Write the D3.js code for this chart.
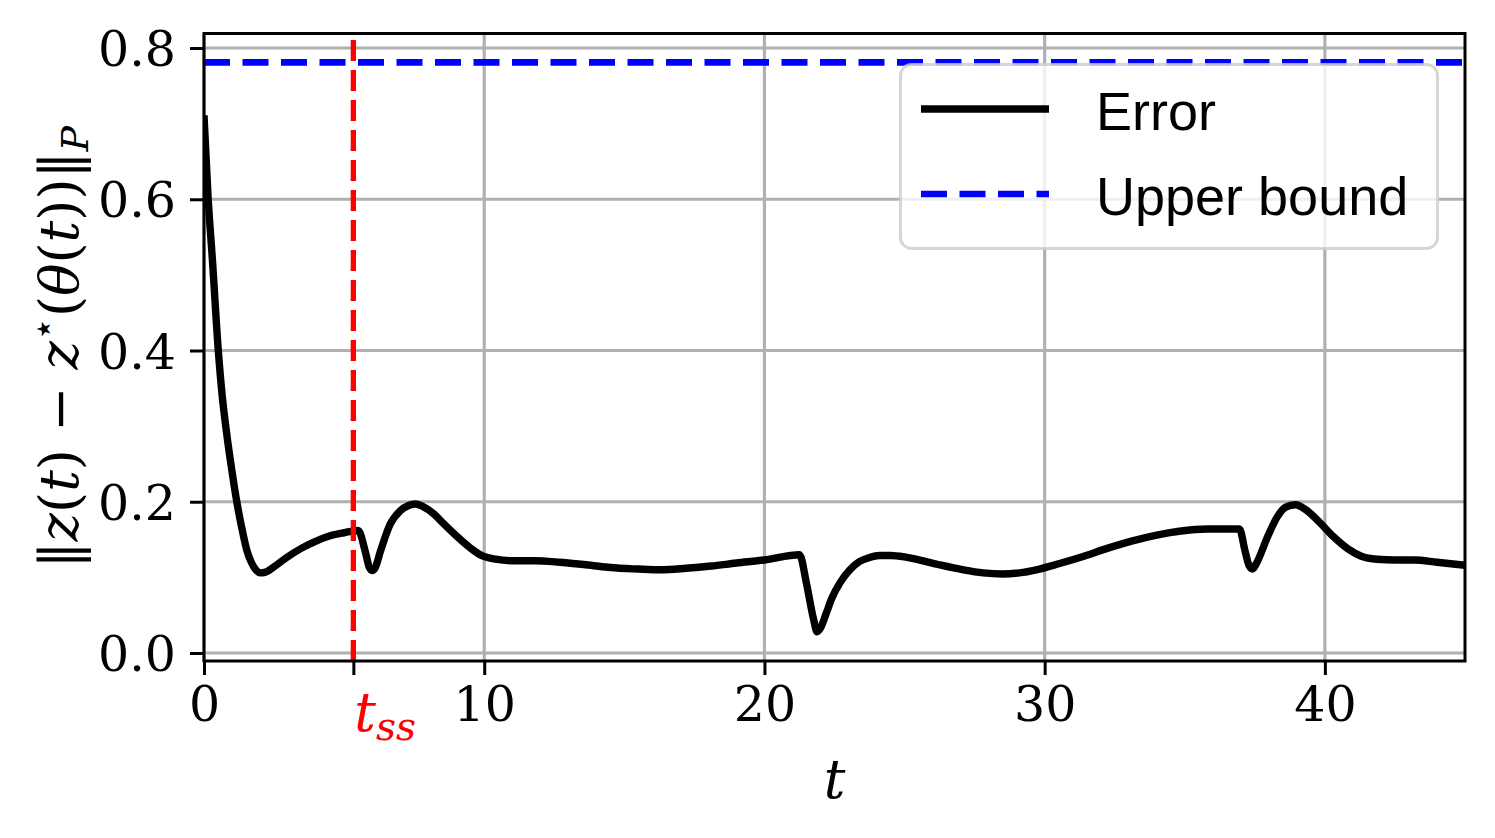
<!DOCTYPE html>
<html><head><meta charset="utf-8">
<script src="https://cdn.jsdelivr.net/npm/d3@7"></script>
<style>body{margin:0;background:#fff}svg{display:block}</style>
</head><body>
<svg id="chart" width="1495" height="838"></svg>
<script>
// ---- data ----
const timeT = [0,0.15,0.3,0.51,0.65,0.81,1.0,1.17,1.35,1.52,1.7,1.85,2.0,2.2,2.5,2.9,3.5,4.0,4.5,5.0,5.5,
  5.75,5.9,6.0,6.1,6.3,6.64,7.0,7.3,7.54,7.8,8.2,8.55,9.0,9.5,9.9,10.4,11.0,11.8,12.7,13.8,14.5,15.5,16.3,17.2,18.1,19.0,20.0,21.25,
  21.5,21.75,21.88,22.0,22.2,22.4,22.7,23.05,23.4,23.73,24.1,24.5,25.0,25.4,26.2,27.1,27.8,28.5,29.1,29.7,30.5,31.4,32.2,33.1,34.0,34.8,35.8,36.95,
  37.15,37.3,37.42,37.55,37.97,38.3,38.6,38.95,39.3,39.83,40.3,40.85,41.3,41.86,42.5,43.2,44.0,45.0];
const errorVals = [0.711,0.60,0.52,0.40,0.34,0.29,0.24,0.20,0.165,0.137,0.119,0.110,0.106,0.107,0.114,0.125,0.139,0.148,0.155,0.159,0.162,
  0.135,0.113,0.109,0.112,0.135,0.170,0.188,0.195,0.197,0.194,0.184,0.171,0.155,0.139,0.129,0.124,0.122,0.122,0.120,0.116,0.113,0.111,0.110,0.112,0.115,0.119,0.123,0.130,
  0.092,0.045,0.028,0.033,0.052,0.072,0.093,0.110,0.121,0.126,0.129,0.129,0.127,0.124,0.117,0.110,0.106,0.1045,0.106,0.110,0.118,0.128,0.138,0.148,0.156,0.161,0.164,0.164,
  0.135,0.115,0.111,0.118,0.155,0.180,0.193,0.196,0.190,0.172,0.154,0.137,0.128,0.124,0.123,0.123,0.120,0.116];
const upperBound = 0.781;
const tSS = 5.33;
const xTicks = [0,10,20,30,40];
const yTicks = [0.0,0.2,0.4,0.6,0.8];
const legendLabels = ["Error","Upper bound"];

// ---- layout ----
const svg = d3.select("#chart");
const L = 204, R = 1465, T = 33.5, B = 661;
const x = d3.scaleLinear().domain([0,45]).range([L,R]);
const y = d3.scaleLinear().domain([-0.0106,0.8192]).range([B,T]);
const serif = "'DejaVu Serif', 'Liberation Serif', serif";
const sans = "'Liberation Sans', Arial, sans-serif";

// grid
const grid = svg.append("g").attr("stroke","#b0b0b0").attr("stroke-width",3.2);
xTicks.forEach(v=>grid.append("line").attr("x1",x(v)).attr("x2",x(v)).attr("y1",T).attr("y2",B));
yTicks.forEach(v=>grid.append("line").attr("y1",y(v)).attr("y2",y(v)).attr("x1",L).attr("x2",R));

// clip
svg.append("clipPath").attr("id","clip").append("rect").attr("x",L).attr("y",T).attr("width",R-L).attr("height",B-T);
const plot = svg.append("g").attr("clip-path","url(#clip)");

// error line
const data = timeT.map((t,i)=>[t,errorVals[i]]);
plot.append("path").datum(data)
  .attr("d", d3.line().x(d=>x(d[0])).y(d=>y(d[1])).curve(d3.curveMonotoneX))
  .attr("fill","none").attr("stroke","#000").attr("stroke-width",7.4).attr("stroke-linejoin","round");

// upper bound
plot.append("line").attr("x1",x(0)).attr("x2",R).attr("y1",y(upperBound)).attr("y2",y(upperBound))
  .attr("stroke","#0000ff").attr("stroke-width",6.7).attr("stroke-dasharray","26,12.5");

// t_ss vertical line (drawn bottom -> top)
plot.append("line").attr("x1",x(tSS)).attr("x2",x(tSS)).attr("y1",B).attr("y2",T)
  .attr("stroke","#ff0000").attr("stroke-width",5.3).attr("stroke-dasharray","21,9");

// axes via d3
const fs = 49;
const xAxis = svg.append("g").attr("transform",`translate(0,${B})`)
  .call(d3.axisBottom(x).tickValues(xTicks.concat([tSS])).tickFormat(d=>d===tSS?"":d3.format("d")(d)).tickSize(14).tickPadding(13));
const yAxis = svg.append("g").attr("transform",`translate(${L},0)`)
  .call(d3.axisLeft(y).tickValues(yTicks).tickFormat(d3.format(".1f")).tickSize(14).tickPadding(14));
[xAxis,yAxis].forEach(a=>{
  a.select(".domain").remove();
  a.selectAll(".tick line").attr("stroke","#000").attr("stroke-width",3);
  a.selectAll(".tick text").attr("font-family",serif).attr("font-size",fs).attr("fill","#000");
});
yAxis.selectAll(".tick text").attr("dy","0.36em");
xAxis.selectAll(".tick text").attr("dy","0.68em");

// t_ss label
const tss = svg.append("text").attr("x",x(tSS)+1).attr("y",731).attr("text-anchor","start")
  .attr("font-family",serif).attr("font-size",54).attr("fill","#ff0000");
tss.append("tspan").attr("font-style","italic").text("t");
tss.append("tspan").attr("font-style","italic").attr("font-size",39).attr("dy",9).text("ss");

// frame
svg.append("rect").attr("x",L).attr("y",T).attr("width",R-L).attr("height",B-T)
  .attr("fill","none").attr("stroke","#000").attr("stroke-width",3);

// x label
svg.append("text").attr("x",(L+R)/2).attr("y",798).attr("text-anchor","middle")
  .attr("font-family",serif).attr("font-size",54).attr("font-style","italic").text("t");

// y label
const yfs = 54;
const yl = svg.append("text").attr("transform",`translate(78,${(T+B)/2}) rotate(-90)`).attr("text-anchor","middle")
  .attr("font-family",serif).attr("font-size",yfs);
const parts = [["‖",0],["z",1],["(",0],["t",1],[")",0],[" − ",0],["z",1]];
parts.forEach(p=>yl.append("tspan").attr("font-style",p[1]?"italic":"normal").text(p[0]));
yl.append("tspan").attr("font-size",yfs*0.7).attr("dy",-22).text("⋆");
yl.append("tspan").attr("dy",22).text("(");
[["θ",1],["(",0],["t",1],["))",0],["‖",0]].forEach(p=>yl.append("tspan").attr("font-style",p[1]?"italic":"normal").text(p[0]));
yl.append("tspan").attr("font-style","italic").attr("font-size",yfs*0.7).attr("dy",10).text("P");

// legend
const lg = svg.append("g");
lg.append("rect").attr("x",900.5).attr("y",64.5).attr("width",537).attr("height",184).attr("rx",11)
  .attr("fill","#fff").attr("fill-opacity",0.8).attr("stroke","#cccccc").attr("stroke-opacity",0.8).attr("stroke-width",3);
const legStyles = [{stroke:"#000",dash:null,w:7.4},{stroke:"#0000ff",dash:"26,12.5",w:6.7}];
legendLabels.forEach((lab,i)=>{
  const cy = 109 + i*85;
  lg.append("line").attr("x1",921).attr("x2",1049).attr("y1",cy).attr("y2",cy)
    .attr("stroke",legStyles[i].stroke).attr("stroke-width",legStyles[i].w).attr("stroke-dasharray",legStyles[i].dash);
  lg.append("text").attr("x",1096).attr("y",cy+21).attr("font-family",sans).attr("font-size",54).attr("fill","#000").text(lab);
});
</script>
</body></html>
